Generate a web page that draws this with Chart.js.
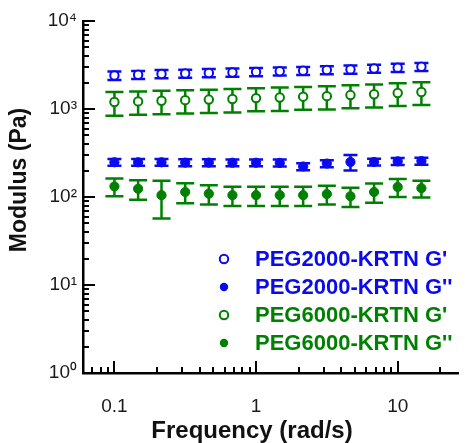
<!DOCTYPE html>
<html>
<head>
<meta charset="utf-8">
<script src="https://cdn.jsdelivr.net/npm/chart.js@4.4.0/dist/chart.umd.min.js"></script>
<style>
  html, body { margin: 0; padding: 0; background: #fff; }
</style>
</head>
<body>
<canvas id="modulusChart" width="465" height="443"></canvas>
<script>
// Frequency sweep (rad/s), 6 points per decade
const frequency = [0.1, 0.147, 0.215, 0.316, 0.464, 0.681, 1, 1.47, 2.15, 3.16, 4.64, 6.81, 10, 14.7];

// Storage / loss modulus (Pa) with error bars
const peg2000Gp = [2400, 2450, 2500, 2530, 2570, 2600, 2640, 2680, 2720, 2770, 2820, 2880, 2950, 3020];
const peg2000GpErr = [260, 260, 270, 270, 270, 280, 280, 280, 290, 290, 300, 300, 310, 320];
const peg2000Gpp = [248, 248, 248, 246, 246, 245, 245, 244, 222, 240, 250, 250, 254, 256];
const peg2000GppErr = [22, 22, 22, 22, 22, 22, 22, 22, 20, 22, 50, 22, 23, 23];
const peg6000Gp = [1200, 1220, 1240, 1260, 1280, 1300, 1330, 1350, 1380, 1400, 1440, 1470, 1520, 1560];
const peg6000GpErr = [360, 360, 370, 370, 380, 390, 390, 400, 400, 410, 420, 430, 440, 450];
const peg6000Gpp = [132, 124, 105, 114, 109, 105, 105, 105, 105, 108, 102, 114, 130, 126];
const peg6000GppErr = [30, 31, 48, 29, 27, 26, 26, 26, 26, 26, 25, 28, 30, 27];

const seriesLabels = ["PEG2000-KRTN G'", "PEG2000-KRTN G''", "PEG6000-KRTN G'", "PEG6000-KRTN G''"];

// Tick labels
const xTickValues = [0.1, 1, 10];
const xTickLabels = ['0.1', '1', '10'];
const yTickValues = [1, 10, 100, 1000, 10000];
const yTickLabels = ['10\u2070', '10\u00b9', '10\u00b2', '10\u00b3', '10\u2074'];

const BLUE = '#0a0af0';
const GREEN = '#008000';

function points(values) {
  return frequency.map((f, i) => ({ x: f, y: values[i] }));
}

function series(label, values, errors, color, open) {
  return {
    label: label,
    data: points(values),
    errors: errors,
    showLine: false,
    borderColor: color,
    backgroundColor: color,
    pointBackgroundColor: open ? '#fff' : color,
    pointBorderColor: color,
    pointBorderWidth: open ? 2 : 1,
    pointRadius: open ? 4.2 : 4.6,
    capHalf: color === BLUE ? 7 : 9,
    open: open,
  };
}

// Error bars drawn under the markers
const errorBars = {
  id: 'errorBars',
  beforeDatasetsDraw(chart) {
    const { ctx, scales: { x, y } } = chart;
    chart.data.datasets.forEach(ds => {
      ctx.save();
      ctx.strokeStyle = ds.borderColor;
      ctx.lineWidth = 2.5;
      ds.data.forEach((pt, i) => {
        const e = ds.errors[i];
        const px = x.getPixelForValue(pt.x);
        const top = y.getPixelForValue(pt.y + e);
        const bot = y.getPixelForValue(pt.y - e);
        ctx.beginPath();
        ctx.moveTo(px, top); ctx.lineTo(px, bot);
        ctx.moveTo(px - ds.capHalf, top); ctx.lineTo(px + ds.capHalf, top);
        ctx.moveTo(px - ds.capHalf, bot); ctx.lineTo(px + ds.capHalf, bot);
        ctx.stroke();
      });
      ctx.restore();
    });
  }
};

// Inward major/minor ticks on log axes
const axisTicks = {
  id: 'axisTicks',
  afterDraw(chart) {
    const { ctx, chartArea: a, scales: { x, y } } = chart;
    ctx.save();
    ctx.strokeStyle = '#000';
    ctx.lineWidth = 2;
    ctx.beginPath();
    for (let k = -2; k <= 1; k++) {
      for (let m = 1; m <= 9; m++) {
        const v = m * Math.pow(10, k);
        if (v < x.min || v > x.max) continue;
        const px = Math.round(x.getPixelForValue(v));
        const len = m === 1 ? 12 : 6;
        ctx.moveTo(px, a.bottom); ctx.lineTo(px, a.bottom - len);
      }
    }
    for (let k = 0; k <= 4; k++) {
      for (let m = 1; m <= 9; m++) {
        const v = m * Math.pow(10, k);
        if (v < y.min || v > y.max) continue;
        const py = Math.round(y.getPixelForValue(v));
        const len = m === 1 ? 12 : 6;
        ctx.moveTo(a.left, py); ctx.lineTo(a.left + len, py);
      }
    }
    ctx.stroke();
    ctx.restore();
  }
};

// Axis titles
const axisTitles = {
  id: 'axisTitles',
  afterDraw(chart) {
    const { ctx } = chart;
    ctx.save();
    ctx.fillStyle = '#111';
    ctx.font = 'bold 24px "Liberation Sans", Arial, sans-serif';
    ctx.textAlign = 'center';
    ctx.textBaseline = 'middle';
    ctx.fillText('Frequency (rad/s)', 252, 431);
    ctx.font = 'bold 23px "Liberation Sans", Arial, sans-serif';
    ctx.translate(20, 180);
    ctx.rotate(-Math.PI / 2);
    ctx.fillText('Modulus (Pa)', 0, 0);
    ctx.restore();
  }
};

// Legend inside the plot, lower right
const innerLegend = {
  id: 'innerLegend',
  afterDraw(chart) {
    const { ctx } = chart;
    ctx.save();
    ctx.font = 'bold 22px "Liberation Sans", Arial, sans-serif';
    ctx.textBaseline = 'middle';
    chart.data.datasets.forEach((ds, i) => {
      const yy = 259 + i * 28;
      ctx.beginPath();
      ctx.arc(224, yy, 4.2, 0, Math.PI * 2);
      if (ds.open) {
        ctx.fillStyle = '#fff'; ctx.fill();
        ctx.lineWidth = 2; ctx.strokeStyle = ds.borderColor; ctx.stroke();
      } else {
        ctx.fillStyle = ds.borderColor; ctx.fill();
      }
      ctx.fillStyle = ds.borderColor;
      ctx.fillText(ds.label, 255, yy + 1);
    });
    ctx.restore();
  }
};

const tickFont = { family: '"Liberation Sans", Arial, sans-serif', size: 19 };

const chart = new Chart(document.getElementById('modulusChart'), {
  type: 'scatter',
  data: {
    datasets: [
      series(seriesLabels[0], peg2000Gp, peg2000GpErr, BLUE, true),
      series(seriesLabels[1], peg2000Gpp, peg2000GppErr, BLUE, false),
      series(seriesLabels[2], peg6000Gp, peg6000GpErr, GREEN, true),
      series(seriesLabels[3], peg6000Gpp, peg6000GppErr, GREEN, false),
    ],
  },
  options: {
    responsive: false,
    animation: false,
    layout: { padding: { top: 21, right: 3, left: 0, bottom: 0 } },
    plugins: { legend: { display: false }, tooltip: { enabled: false } },
    scales: {
      x: {
        type: 'logarithmic',
        min: 0.06,
        max: 27,
        grid: { display: false, drawTicks: false },
        border: { display: true, color: '#000', width: 2.5 },
        ticks: {
          font: tickFont,
          color: '#1a1a1a',
          padding: 22,
          maxRotation: 0,
          callback: (v, i) => xTickLabels[i],
        },
        afterBuildTicks: s => { s.ticks = xTickValues.map(v => ({ value: v })); },
        afterFit: s => { s.height = 70; },
      },
      y: {
        type: 'logarithmic',
        min: 1,
        max: 10000,
        grid: { display: false, drawTicks: false },
        border: { display: true, color: '#000', width: 2.5 },
        ticks: {
          font: tickFont,
          color: '#1a1a1a',
          padding: 6,
          callback: (v, i) => yTickLabels[i],
        },
        afterBuildTicks: s => { s.ticks = yTickValues.map(v => ({ value: v })); },
        afterFit: s => { s.width = 83; },
      },
    },
  },
  plugins: [errorBars, axisTicks, axisTitles, innerLegend],
});
</script>
</body>
</html>
